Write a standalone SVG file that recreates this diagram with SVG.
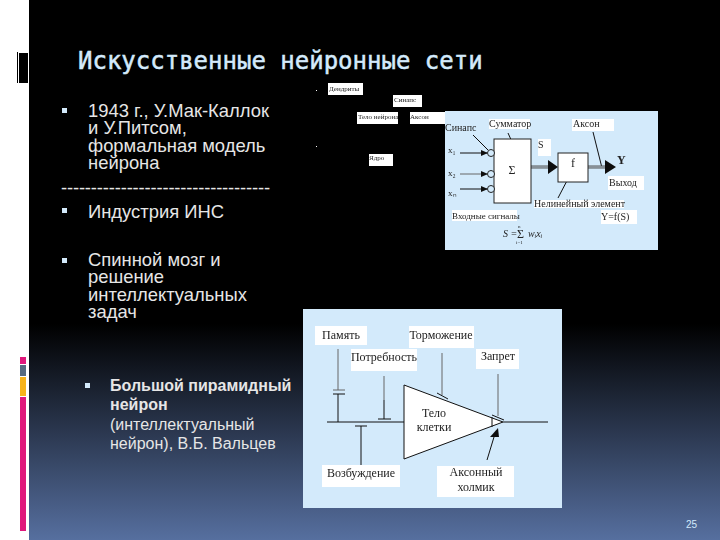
<svg xmlns="http://www.w3.org/2000/svg" width="720" height="540" viewBox="0 0 720 540">
<style>
.body{font-family:"Liberation Sans",Arial,sans-serif;font-size:18.4px;fill:#e6e6e6}
.small{font-family:"Liberation Sans",Arial,sans-serif;font-size:16px;fill:#e6e6e6}
.b{font-weight:bold}
.bul{fill:#d3eafb}
.tiny{font-family:"Liberation Serif","Times New Roman",serif;font-size:7px;fill:#222}
.lab{font-family:"Liberation Serif","Times New Roman",serif;font-size:10px;fill:#222}
.lab2{font-family:"Liberation Serif","Times New Roman",serif;font-size:12px;fill:#222}
.m{text-anchor:middle}
.w{fill:#fff}
.pan{fill:#d3eafb}
.ln{stroke:#111;stroke-width:1;fill:none}
.gr{stroke:#666;stroke-width:1;fill:none}
.db{stroke:#555;stroke-width:3;fill:none}
.dbi{stroke:#d3eafb;stroke-width:.8;fill:none}
.box{fill:#fff;stroke:#222;stroke-width:1}
.c{fill:#d3eafb;stroke:#222;stroke-width:1}
</style>
<defs>
<linearGradient id="bg" x1="0" y1="0" x2="0" y2="1">
<stop offset="0" stop-color="#000"/><stop offset=".6" stop-color="#000"/><stop offset="1" stop-color="#566f9f"/>
</linearGradient>
<filter id="soft" x="-5%" y="-5%" width="110%" height="110%"><feGaussianBlur stdDeviation=".35"/></filter>
</defs>
<rect width="720" height="540" fill="#fff"/>
<rect x="29" width="691" height="540" fill="url(#bg)"/>
<g id="sidebar">
<rect x="17" y="52" width="1" height="31" fill="#000"/>
<rect x="19" y="53" width="9" height="30" fill="#000"/>
<rect x="20" y="357" width="6" height="7" fill="#e0187c"/>
<rect x="20" y="365" width="6" height="11" fill="#566a80"/>
<rect x="20" y="377" width="6" height="19" fill="#f7b31a"/>
<rect x="20" y="397" width="6" height="134" fill="#e0187c"/>
</g>
<text id="title" x="78" y="69" font-family="'DejaVu Sans Mono',monospace" font-size="24" fill="#d3eafb" stroke="#d3eafb" stroke-width=".5">Искусственные нейронные сети</text>
<g id="text">
<rect class="bul" x="62" y="108" width="5" height="5"/>
<text class="body" x="88" y="117">1943 г., У.Мак-Каллок</text>
<text class="body" x="88" y="134">и У.Питсом,</text>
<text class="body" x="88" y="152">формальная модель</text>
<text class="body" x="88" y="169">нейрона</text>
<text class="body" x="61" y="194" textLength="209">-----------------------------------</text>
<rect class="bul" x="62" y="208" width="5" height="5"/>
<text class="body" x="88" y="218">Индустрия ИНС</text>
<rect class="bul" x="62" y="258" width="5" height="5"/>
<text class="body" x="88" y="266">Спинной мозг и</text>
<text class="body" x="88" y="283">решение</text>
<text class="body" x="88" y="301">интеллектуальных</text>
<text class="body" x="88" y="318">задач</text>
<rect class="bul" x="85" y="383" width="5" height="5"/>
<text class="small b" x="110" y="391">Большой пирамидный</text>
<text class="small b" x="110" y="410">нейрон</text>
<text class="small" x="110" y="430">(интеллектуальный</text>
<text class="small" x="110" y="449">нейрон), В.Б. Вальцев</text>
</g>
<text id="page" x="686" y="528" font-family="'Liberation Sans',sans-serif" font-size="10" fill="#d3eafb">25</text>
<g id="scatter" filter="url(#soft)">
<rect class="w" x="316" y="90" width="1" height="1"/>
<rect class="w" x="316" y="146" width="1" height="1"/>
<g id="l-dendrites"><rect class="w" x="328" y="83" width="35" height="12"/><text class="tiny" x="329" y="91">Дендриты</text></g>
<g id="l-synapse"><rect class="w" x="393" y="95" width="29" height="12"/><text class="tiny" x="394" y="102">Синапс</text></g>
<g id="l-body"><rect class="w" x="357" y="112" width="41" height="12"/><text class="tiny" x="358" y="119">Тело нейрона</text></g>
<g id="l-axon"><rect class="w" x="410" y="112" width="35" height="12"/><text class="tiny" x="410" y="119">Аксон</text></g>
<g id="l-nucleus"><rect class="w" x="369" y="154" width="24" height="12"/><text class="tiny" x="369" y="160">Ядро</text></g>
</g>
<g id="panel1" filter="url(#soft)">
<rect class="pan" x="445" y="111" width="213" height="139"/>
<rect class="w" x="489" y="119" width="41" height="10"/>
<rect class="w" x="572" y="119" width="42" height="12"/>
<rect class="w" x="538" y="139" width="13" height="17"/>
<rect class="w" x="608" y="176" width="36" height="14"/>
<rect class="w" x="534" y="200" width="90" height="8"/>
<rect class="w" x="452" y="210" width="65" height="11"/>
<rect class="w" x="601" y="210" width="36" height="14"/>
<g id="connectors1">
<path class="ln" d="M460 153H487M460 189H487"/>
<path class="gr" d="M460 174H487"/>
<path d="M481 150l7 3-7 3zM481 171l7 3-7 3zM481 186l7 3-7 3z" fill="#111"/>
<path class="ln" d="M473 135L488 150M508 133L517 153M593 132L602 168M571 173L558 198"/>
<path class="db" d="M531 167H549M588 167H606"/>
<path class="dbi" d="M531 167H549M588 167H606"/>
<path d="M548 160l10 7-10 7zM605 160l11 7-11 7z" fill="#111"/>
</g>
<g id="sum"><rect class="box" x="494" y="139" width="37" height="64"/><text class="lab2 m" x="512" y="174">Σ</text></g>
<g id="f"><rect class="box" x="558" y="153" width="30" height="29"/><text class="lab2 m" x="573" y="167">f</text></g>
<circle class="c" cx="491" cy="153" r="3.5"/><circle class="c" cx="491" cy="174" r="3.5"/><circle class="c" cx="491" cy="189" r="3.5"/>
<g>
<text class="lab" x="445" y="131" font-size="10">Синапс</text>
<text class="lab" x="489" y="127">Сумматор</text>
<text class="lab" x="573" y="127">Аксон</text>
<text class="lab" x="538" y="148">S</text>
<text class="lab2" x="617" y="164" font-weight="bold">Y</text>
<text class="lab" x="609" y="186">Выход</text>
<text class="lab" x="534" y="207">Нелинейный элемент</text>
<text class="lab" x="452" y="219" style="font-size:9px">Входные сигналы</text>
<text class="lab" x="601" y="220">Y=f(S)</text>
<text class="lab" x="448" y="153" style="font-size:9px">x₁</text>
<text class="lab" x="448" y="176" style="font-size:9px">x₂</text>
<text class="lab" x="448" y="196" style="font-size:9px">xₙ</text>
<text class="lab" x="503" y="237" font-style="italic">S =</text>
<text class="lab2" x="517" y="238">Σ</text>
<text class="lab" x="518" y="228" style="font-size:5px">n</text>
<text class="lab" x="516" y="244" style="font-size:5px">i=1</text>
<text class="lab" x="528" y="237" font-style="italic">wᵢxᵢ</text>
</g>
</g>
<g id="panel2" filter="url(#soft)">
<rect class="pan" x="303" y="309" width="259" height="199"/>
<g id="labels2">
<rect class="w" x="315" y="326" width="52" height="19"/>
<rect class="w" x="409" y="326" width="65" height="22"/>
<rect class="w" x="351" y="349" width="66" height="22"/>
<rect class="w" x="476" y="349" width="43" height="20"/>
<rect class="w" x="322" y="465" width="78" height="22"/>
<rect class="w" x="437" y="466" width="77" height="31"/>
</g>
<g id="cell"><path d="M404 385L503 422L404 459Z" fill="#fff" stroke="#111" stroke-width="1"/></g>
<g id="connectors2">
<path class="ln" d="M327 422H404M503 422H548"/>
<path class="ln" d="M338 394V422M333 394H345M355 426H367M361 426V465M378 419H391M384 419V400"/>
<path class="gr" d="M338 349V390M333 390H345M384 376V400M442 353V395M498 374V416"/>
<path class="ln" d="M437 393L448 399M492 415L504 420M492 417V427M487 460L494 437"/>
<path d="M498 428L490 437H499z" fill="#111"/>
</g>
<g>
<text class="lab2 m" x="341" y="339">Память</text>
<text class="lab2 m" x="441" y="339">Торможение</text>
<text class="lab2 m" x="384" y="361">Потребность</text>
<text class="lab2 m" x="498" y="360">Запрет</text>
<text class="lab2 m" x="434" y="417">Тело</text>
<text class="lab2 m" x="434" y="431">клетки</text>
<text class="lab2 m" x="361" y="477">Возбуждение</text>
<text class="lab2 m" x="476" y="476">Аксонный</text>
<text class="lab2 m" x="476" y="491">холмик</text>
</g>
</g>
</svg>
